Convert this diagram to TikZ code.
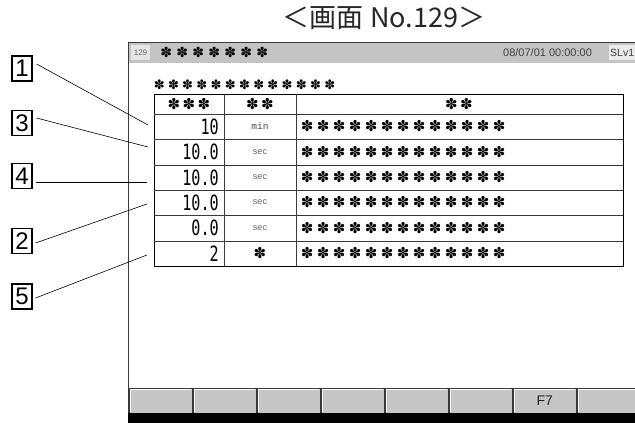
\documentclass[tikz,border=0pt]{standalone}
\usepackage{fontspec}
\setmainfont{Liberation Sans}
\newfontfamily\cjkfont{Noto Sans CJK JP}
\newfontfamily\starfont{DejaVu Sans}
\newfontfamily\segfont{DejaVu Sans Mono}[FakeStretch=0.72]
\newfontfamily\unitmono{Liberation Mono}
\usetikzlibrary{positioning}
\definecolor{barGray}{HTML}{C4C4C4}
\definecolor{keyGray}{HTML}{C6C6C6}
\definecolor{lineGray}{HTML}{3A3A3A}
\newcommand{\starrow}[2]{\starfont\foreach \k in {1,...,#1}{\makebox[#2]{✽}}}
\newcommand{\unitmin}{{\unitmono\fontsize{9.5}{10}\selectfont\color{black!70}min}}
\newcommand{\unitsec}{{\fontsize{9}{10}\selectfont\color{black!60}sec}}
\newcommand{\unitstar}{{\starfont\fontsize{15}{15}\selectfont ✽}}
\tikzstyle{callout}=[draw, line width=1.1pt, minimum width=20pt, minimum height=25pt, inner sep=0pt, font=\fontsize{24}{24}\selectfont]
\tikzstyle{leader}=[line width=0.6pt]
\tikzstyle{fkey}=[draw=lineGray, fill=keyGray, minimum width=63pt, minimum height=25pt, inner sep=0pt, anchor=north west]
\tikzstyle{grid}=[line width=0.8pt, draw=lineGray]
\tikzstyle{stars}=[anchor=west, inner sep=0pt, font=\fontsize{15}{15}\selectfont]

\begin{document}
\begin{tikzpicture}[x=1pt,y=-1pt]
        \useasboundingbox (0,0) rectangle (635,423);
        \node [font=\cjkfont\fontsize{27}{27}\selectfont, text=black!85] (title) at (384,18) {＜画面 No.129＞};

        \fill [barGray] (128,42) rectangle (635,63);
        \draw [lineGray, line width=0.8pt] (635,42) -- (128,42) -- (128,413);
        \node [fill=black!10, minimum width=19pt, minimum height=15pt, inner sep=0pt, font=\fontsize{8}{8}\selectfont, text=black!60] (scrno) at (140.5,52.5) {129};
        \node [stars, font=\fontsize{14}{14}\selectfont] (scrname) at (158,52.5) {\starrow{7}{16pt}};
        \node [anchor=west, inner sep=0pt, font=\fontsize{11}{11}\selectfont, text=black!75] (date) at (503,52.5) {08/07/01 00:00:00};
        \node [anchor=west, fill=black!8, minimum height=15pt, inner sep=1pt, font=\fontsize{10.5}{11}\selectfont, text=black!75] (level) at (609,52.5) {SLv1};

        \node [stars, font=\fontsize{13}{13}\selectfont] (caption) at (152,85) {\starrow{13}{14.2pt}};
        \draw [line width=1pt] (154,94) rectangle (623,266);
        \foreach \y in {114,139,165,190,215,241}
                \draw [grid] (154,\y) -- (623,\y);
        \draw [grid] (224,94) -- (224,266);
        \draw [grid] (296,94) -- (296,266);
        \node [inner sep=0pt, font=\fontsize{15}{15}\selectfont] (hval) at (189,104) {\starrow{3}{15pt}};
        \node [inner sep=0pt, font=\fontsize{15}{15}\selectfont] (hunit) at (260,104) {\starrow{2}{15pt}};
        \node [inner sep=0pt, font=\fontsize{15}{15}\selectfont] (htext) at (459,104) {\starrow{2}{15pt}};
        \foreach \v/\u/\yc [count=\i] in {10/\unitmin/126.5, 10.0/\unitsec/152, 10.0/\unitsec/177.5, 10.0/\unitsec/202.5, 0.0/\unitsec/228, 2/\unitstar/253.5} {
                \node [anchor=east, inner sep=0pt, font=\segfont\fontsize{21}{21}\selectfont] (val\i) at (219,\yc) {\v};
                \node [inner sep=0pt] (unit\i) at (260,\yc) {\u};
                \node [stars] (text\i) at (299,\yc) {\starrow{13}{16pt}};
        }

        \foreach \i in {0,...,7} {
                \node [fkey] (key\i) at (129+64*\i,388) {};
                \draw [white, line width=0.8pt] ([xshift=1.2pt,yshift=1.2pt]key\i.south west) -- ([xshift=1.2pt,yshift=-1.2pt]key\i.north west) -- ([xshift=-1.2pt,yshift=-1.2pt]key\i.north east);
        }
        \node [font=\fontsize{14}{14}\selectfont, text=black!85] (f7) at (key6.center) {F7};
        \fill [black] (128,413) rectangle (635,423);

        \node [callout] (c1) at (22,68.5) {1};
        \node [callout] (c3) at (22,123) {3};
        \node [callout] (c4) at (22,176) {4};
        \node [callout] (c2) at (22,241) {2};
        \node [callout] (c5) at (22,296.5) {5};
        \coordinate (t1) at (148,125);
        \coordinate (t3) at (148,147);
        \coordinate (t4) at (147,182);
        \coordinate (t2) at (147,204);
        \coordinate (t5) at (147,255);
        \draw [leader] ([xshift=4pt,yshift=4.5pt]c1.east) -- (t1);
        \draw [leader] ([xshift=4pt,yshift=5pt]c3.east) -- (t3);
        \draw [leader] ([xshift=3pt,yshift=-6pt]c4.east) -- (t4);
        \draw [leader] ([xshift=3pt,yshift=-2pt]c2.east) -- (t2);
        \draw [leader] ([xshift=3pt,yshift=-1.5pt]c5.east) -- (t5);
\end{tikzpicture}
\end{document}
